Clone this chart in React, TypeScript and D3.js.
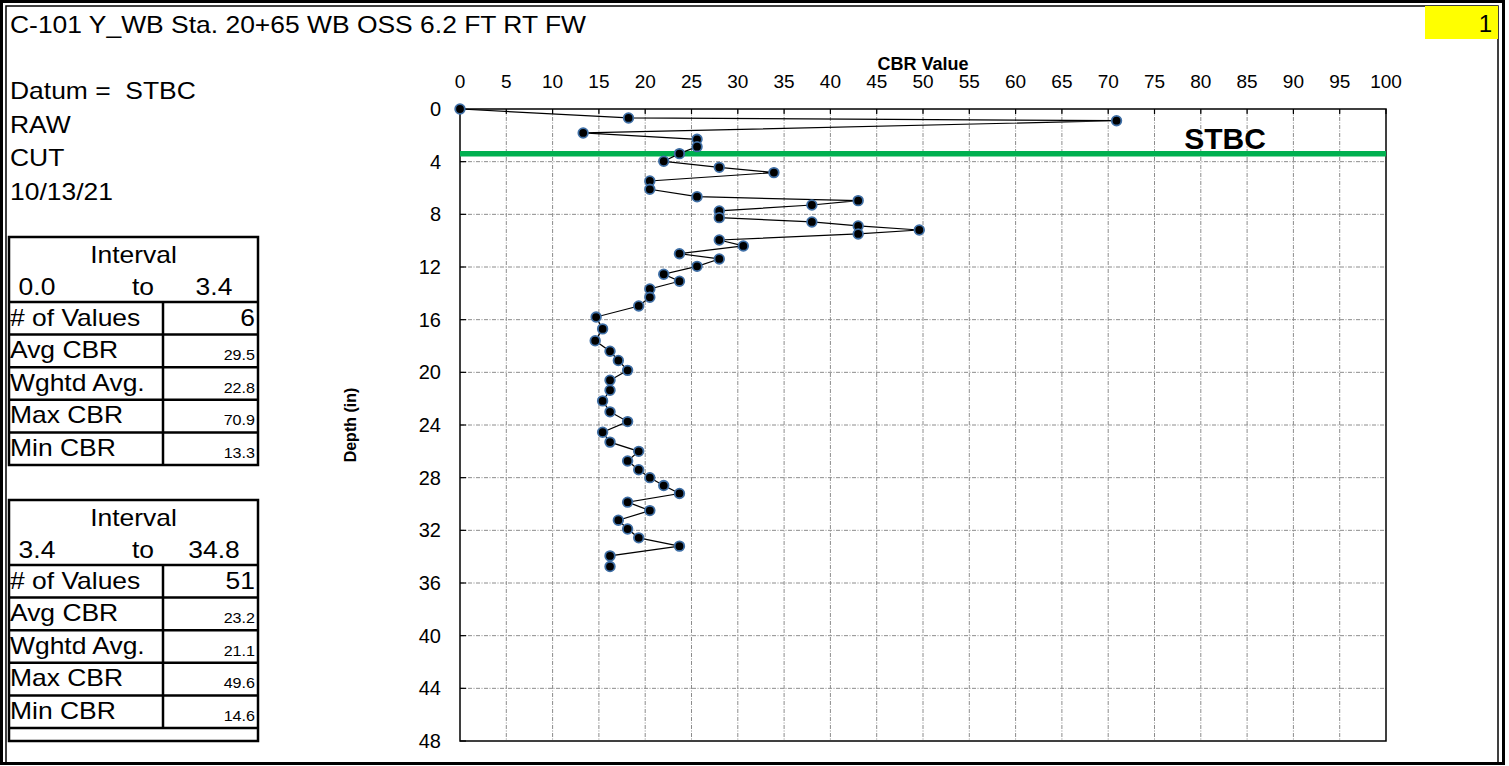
import * as d3 from "d3";

// depth (in) and CBR readings, top to bottom
const depths = [0, 0.68, 0.89, 1.82, 2.3, 2.86, 3.39, 3.97, 4.43, 4.83, 5.47, 6.1, 6.66, 6.96, 7.29, 7.74, 8.25, 8.58, 8.88, 9.19, 9.49, 9.95, 10.4, 10.99, 11.39, 11.95, 12.55, 13.08, 13.67, 14.3, 14.96, 15.8, 16.7, 17.6, 18.4, 19.1, 19.85, 20.6, 21.36, 22.17, 23.0, 23.74, 24.55, 25.3, 26.0, 26.73, 27.4, 28.0, 28.6, 29.2, 29.86, 30.5, 31.23, 31.9, 32.57, 33.2, 33.94, 34.75];
const cbrValues = [0, 18.2, 70.9, 13.3, 25.6, 25.6, 23.7, 22.0, 28.0, 33.9, 20.5, 20.5, 25.6, 43.0, 38.0, 28.0, 28.0, 38.0, 43.0, 49.6, 43.0, 28.0, 30.6, 23.7, 28.0, 25.6, 22.0, 23.7, 20.5, 20.5, 19.3, 14.7, 15.4, 14.6, 16.2, 17.1, 18.1, 16.2, 16.2, 15.4, 16.2, 18.1, 15.4, 16.2, 19.3, 18.1, 19.3, 20.5, 22.0, 23.7, 18.1, 20.5, 17.1, 18.1, 19.3, 23.7, 16.2, 16.2];

const xTicks = d3.range(0, 101, 5);
const yTicks = d3.range(0, 49, 4);
const datumDepth = 3.4;

const headerLines = ["Datum =  STBC", "RAW", "CUT", "10/13/21"];
const statLabels = ["# of Values", "Avg CBR", "Wghtd Avg.", "Max CBR", "Min CBR"];
const interval1 = ["0.0", "3.4"];
const stats1 = ["6", "29.5", "22.8", "70.9", "13.3"];
const interval2 = ["3.4", "34.8"];
const stats2 = ["51", "23.2", "21.1", "49.6", "14.6"];

const W = 1509;
const H = 766;
const font = "'Liberation Sans', Arial, sans-serif";
const SX = 1.15; // sheet text is drawn a bit wide

const plot = { left: 460, right: 1386, top: 109, bottom: 741 };

function Txt({ x, y, size, anchor = "start", children }: { x: number; y: number; size: number; anchor?: string; children: any }) {
  return (
    <text transform={`translate(${x},${y}) scale(${SX},1)`} fontSize={size} textAnchor={anchor} xmlSpace="preserve">
      {children}
    </text>
  );
}

function StatTable({ top, interval, stats, extra = 0 }: { top: number; interval: string[]; stats: string[]; extra?: number }) {
  const left = 9;
  const right = 258;
  const mid = 163;
  const headH = 65;
  const rowH = 32.6;
  const rowsBottom = top + headH + rowH * stats.length;
  const bottom = rowsBottom + extra;
  return (
    <g fontFamily={font} fill="#000">
      <rect x={left} y={top} width={right - left} height={bottom - top} fill="none" stroke="#000" strokeWidth={2.5} />
      <Txt x={(left + right) / 2} y={top + 26} size={23} anchor="middle">Interval</Txt>
      <Txt x={37} y={top + 58} size={23} anchor="middle">{interval[0]}</Txt>
      <Txt x={143} y={top + 58} size={23} anchor="middle">to</Txt>
      <Txt x={214} y={top + 58} size={23} anchor="middle">{interval[1]}</Txt>
      {stats.map((v, i) => {
        const y0 = top + headH + i * rowH;
        return (
          <g key={i}>
            <line x1={left} x2={right} y1={y0} y2={y0} stroke="#000" strokeWidth={2.5} />
            <Txt x={left + 1} y={y0 + rowH - 9} size={23}>{statLabels[i]}</Txt>
            <Txt x={right - 3} y={y0 + rowH - (i === 0 ? 9 : 7)} size={i === 0 ? 23 : 14} anchor="end">{v}</Txt>
          </g>
        );
      })}
      {extra > 0 && <line x1={left} x2={right} y1={rowsBottom} y2={rowsBottom} stroke="#000" strokeWidth={2.5} />}
      <line x1={mid} x2={mid} y1={top + headH} y2={rowsBottom} stroke="#000" strokeWidth={2.5} />
    </g>
  );
}

export default function App() {
  const x = d3.scaleLinear().domain([0, 100]).range([plot.left, plot.right]);
  const y = d3.scaleLinear().domain([0, 48]).range([plot.top, plot.bottom]);
  const pts = depths.map((d, i) => ({ depth: d, cbr: cbrValues[i] }));
  const line = d3.line<{ depth: number; cbr: number }>().x(d => x(d.cbr)).y(d => y(d.depth));

  return (
    <svg width={W} height={H} style={{ position: "absolute", left: 0, top: 0, background: "#fff" }} fontFamily={font}>
      <rect x={0} y={0} width={W} height={H} fill="#fff" />
      {/* sheet frame */}
      <rect x={1.5} y={1.5} width={1502} height={762} fill="none" stroke="#000" strokeWidth={3} />
      <rect x={6} y={6} width={1492} height={757} fill="none" stroke="#000" strokeWidth={1.5} />

      <rect x={1425} y={6} width={73} height={33} fill="#ffff00" />
      <text x={1492} y={32} fontSize={24} textAnchor="end">1</text>

      <Txt x={10} y={33} size={23}>C-101 Y_WB Sta. 20+65 WB OSS 6.2 FT RT FW</Txt>
      {headerLines.map((t, i) => (
        <Txt key={i} x={10} y={99 + i * 33.5} size={23}>{t}</Txt>
      ))}

      <StatTable top={237} interval={interval1} stats={stats1} />
      <StatTable top={500} interval={interval2} stats={stats2} extra={13} />

      {/* grid */}
      <g stroke="#8c8c8c" strokeWidth={1} strokeDasharray="4 1.5 1 1.5">
        {xTicks.slice(1, -1).map(t => (
          <line key={"gx" + t} x1={x(t)} x2={x(t)} y1={plot.top} y2={plot.bottom} />
        ))}
        {yTicks.slice(1, -1).map(t => (
          <line key={"gy" + t} x1={plot.left} x2={plot.right} y1={y(t)} y2={y(t)} />
        ))}
      </g>
      <rect x={plot.left} y={plot.top} width={plot.right - plot.left} height={plot.bottom - plot.top} fill="none" stroke="#000" strokeWidth={1.5} />
      <g stroke="#000" strokeWidth={1.2}>
        {xTicks.map(t => (
          <line key={"tx" + t} x1={x(t)} x2={x(t)} y1={plot.top} y2={plot.top + 5} />
        ))}
        {yTicks.map(t => (
          <line key={"ty" + t} x1={plot.left} x2={plot.left + 6} y1={y(t)} y2={y(t)} />
        ))}
      </g>
      {xTicks.map(t => (
        <text key={"lx" + t} x={x(t)} y={88} fontSize={19} textAnchor="middle">{t}</text>
      ))}
      {yTicks.map(t => (
        <text key={"ly" + t} x={441} y={y(t) + 7} fontSize={20} textAnchor="end">{t}</text>
      ))}
      <text x={(plot.left + plot.right) / 2} y={70} fontSize={18} fontWeight="bold" textAnchor="middle">CBR Value</text>
      <text transform={`translate(356,${(plot.top + plot.bottom) / 2}) rotate(-90)`} fontSize={16} fontWeight="bold" textAnchor="middle">Depth (in)</text>

      <line x1={plot.left} x2={plot.right} y1={y(datumDepth)} y2={y(datumDepth)} stroke="#00b050" strokeWidth={5.5} />
      <text x={1225} y={149} fontSize={30} fontWeight="bold" textAnchor="middle">STBC</text>

      <path d={line(pts) ?? ""} fill="none" stroke="#000" strokeWidth={1.2} />
      {pts.map((p, i) => (
        <circle key={i} cx={x(p.cbr)} cy={y(p.depth)} r={4.8} fill="#000" stroke="#3f6fa6" strokeWidth={1.8} />
      ))}
    </svg>
  );
}
